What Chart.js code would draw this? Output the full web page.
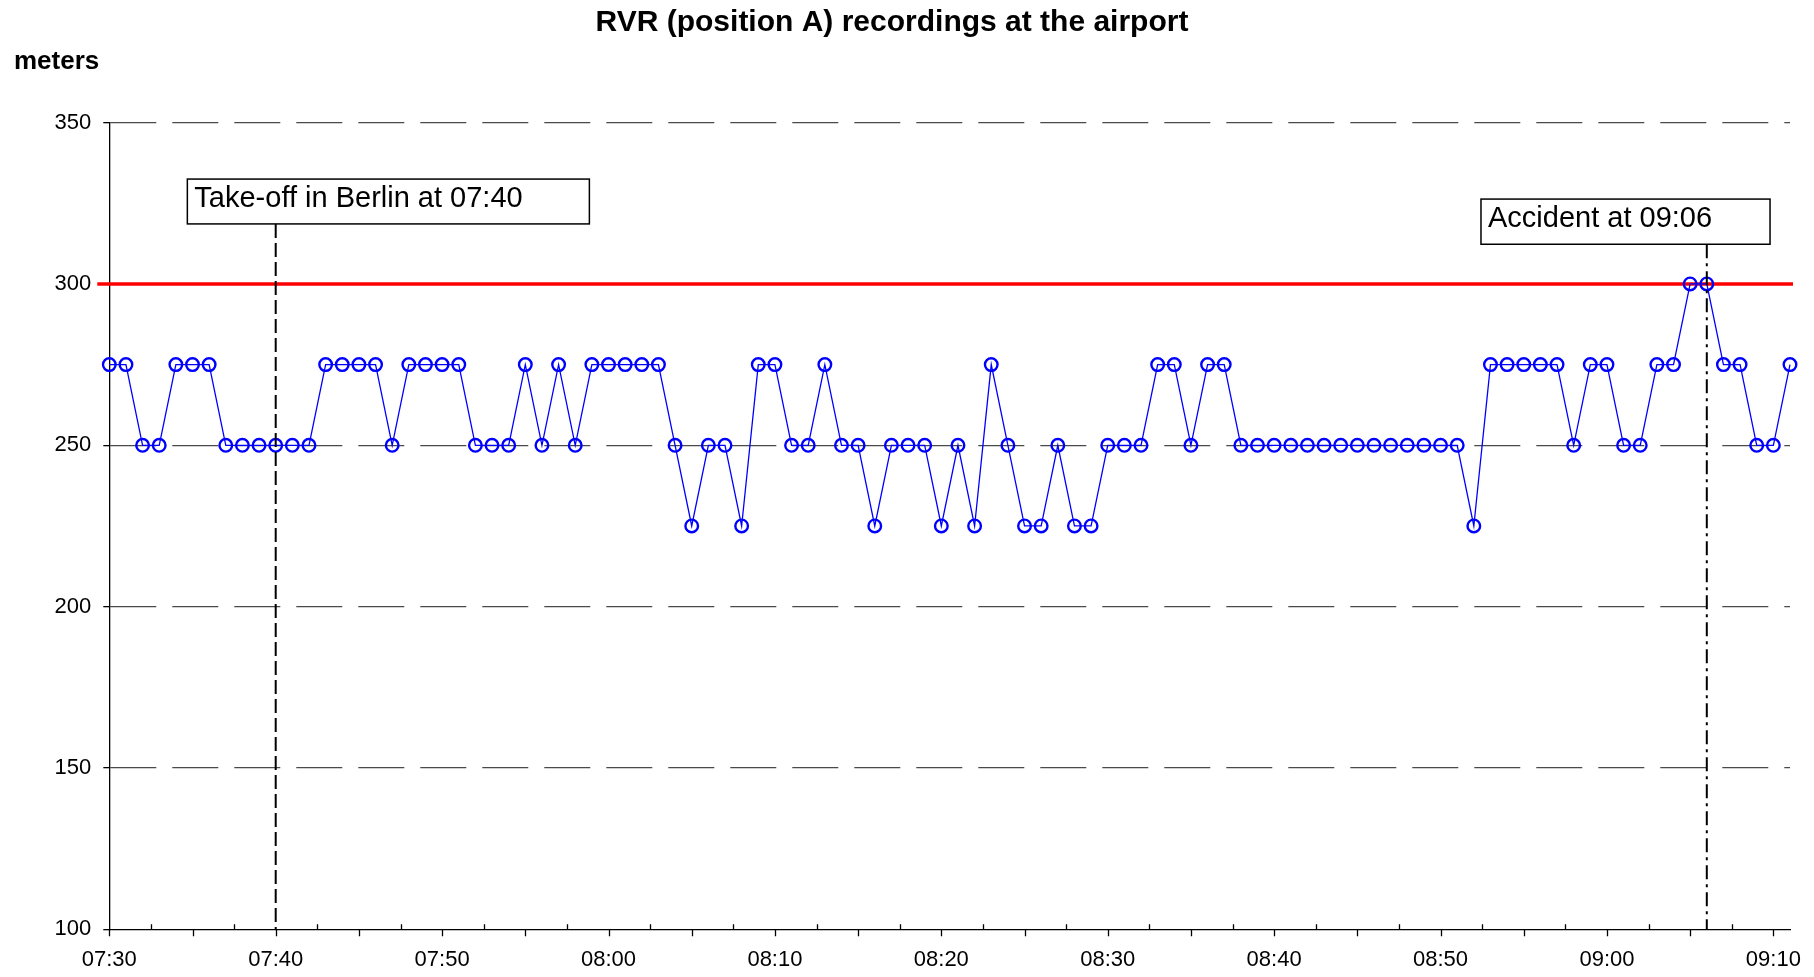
<!DOCTYPE html>
<html>
<head>
<meta charset="utf-8">
<script src="https://cdn.jsdelivr.net/npm/chart.js@4.4.1/dist/chart.umd.min.js"></script>
<style>
  html, body { margin: 0; padding: 0; background: #fff; }
  canvas { display: block; }
</style>
</head>
<body>
<canvas id="rvrChart" width="1814" height="977"></canvas>
<script>
// one reading per minute, 07:30 - 09:11
const times = [
  '07:30','07:31','07:32','07:33','07:34','07:35','07:36','07:37','07:38','07:39',
  '07:40','07:41','07:42','07:43','07:44','07:45','07:46','07:47','07:48','07:49',
  '07:50','07:51','07:52','07:53','07:54','07:55','07:56','07:57','07:58','07:59',
  '08:00','08:01','08:02','08:03','08:04','08:05','08:06','08:07','08:08','08:09',
  '08:10','08:11','08:12','08:13','08:14','08:15','08:16','08:17','08:18','08:19',
  '08:20','08:21','08:22','08:23','08:24','08:25','08:26','08:27','08:28','08:29',
  '08:30','08:31','08:32','08:33','08:34','08:35','08:36','08:37','08:38','08:39',
  '08:40','08:41','08:42','08:43','08:44','08:45','08:46','08:47','08:48','08:49',
  '08:50','08:51','08:52','08:53','08:54','08:55','08:56','08:57','08:58','08:59',
  '09:00','09:01','09:02','09:03','09:04','09:05','09:06','09:07','09:08','09:09',
  '09:10','09:11'
]

const rvr = [
  275,275,250,250,275,275,275,250,250,250,
  250,250,250,275,275,275,275,250,275,275,
  275,275,250,250,250,275,250,275,250,275,
  275,275,275,275,250,225,250,250,225,275,
  275,250,250,275,250,250,225,250,250,250,
  225,250,225,275,250,225,225,250,225,225,
  250,250,250,275,275,250,275,275,250,250,
  250,250,250,250,250,250,250,250,250,250,
  250,250,225,275,275,275,275,275,250,275,
  275,250,250,275,275,300,300,275,275,250,
  250,275
]

const xTickLabels = ['07:30','07:40','07:50','08:00','08:10','08:20','08:30','08:40','08:50','09:00','09:10']
const yTicks = [100, 150, 200, 250, 300, 350]
const limitValue = 300

const chartTitle = 'RVR (position A) recordings at the airport'
const yUnit = 'meters'

// event markers; box corners given in axis units (minute index / meters)
const events = [
  { time: '07:40', text: 'Take-off in Berlin at 07:40', dash: [14, 5], box: { from: 4.69, to: 28.85, top: 332.5, bottom: 318.6 } },
  { time: '09:06', text: 'Accident at 09:06', dash: [14, 5, 3, 5], box: { from: 82.43, to: 99.8, top: 326.3, bottom: 312.3 } }
]

const FONT = "'Liberation Sans', Arial, sans-serif"

const decor = {
  id: 'decor',
  beforeDatasetsDraw(chart) {
    const { ctx, chartArea, scales: { y } } = chart
    const py = y.getPixelForValue(limitValue)
    ctx.save()
    ctx.strokeStyle = '#ff0000'
    ctx.lineWidth = 3.5
    ctx.beginPath()
    ctx.moveTo(chartArea.left - 12, py)
    ctx.lineTo(chartArea.right + 3, py)
    ctx.stroke()
    ctx.restore()
  },
  afterDraw(chart) {
    const { ctx, chartArea, scales: { x, y } } = chart
    ctx.save()

    // title and unit
    ctx.fillStyle = '#000'
    ctx.font = `bold 30px ${FONT}`
    ctx.textAlign = 'center'
    ctx.textBaseline = 'alphabetic'
    ctx.fillText(chartTitle, 892, 31)
    ctx.font = `bold 26px ${FONT}`
    ctx.textAlign = 'left'
    ctx.fillText(yUnit, 14, 69)

    // x tick marks: every 5 min below the axis, halfway ones above
    ctx.strokeStyle = '#000'
    ctx.lineWidth = 1.3
    ctx.beginPath()
    for (let m = 0; m <= times.length - 1; m += 2.5) {
      const px = Math.round(x.getPixelForValue(m)) + 0.5
      if (m % 5 === 0) {
        ctx.moveTo(px, chartArea.bottom)
        ctx.lineTo(px, chartArea.bottom + 7)
      } else {
        ctx.moveTo(px, chartArea.bottom)
        ctx.lineTo(px, chartArea.bottom - 5)
      }
    }
    ctx.stroke()

    // event lines and labels
    events.forEach(ev => {
      const px = x.getPixelForValue(times.indexOf(ev.time))
      const bx1 = x.getPixelForValue(ev.box.from)
      const bx2 = x.getPixelForValue(ev.box.to)
      const by1 = y.getPixelForValue(ev.box.top)
      const by2 = y.getPixelForValue(ev.box.bottom)

      ctx.strokeStyle = '#000'
      ctx.lineWidth = 2
      ctx.setLineDash(ev.dash)
      ctx.beginPath()
      ctx.moveTo(px, by2)
      ctx.lineTo(px, chartArea.bottom)
      ctx.stroke()
      ctx.setLineDash([])

      ctx.fillStyle = '#fff'
      ctx.fillRect(bx1, by1, bx2 - bx1, by2 - by1)
      ctx.lineWidth = 1.5
      ctx.strokeRect(bx1, by1, bx2 - bx1, by2 - by1)

      ctx.fillStyle = '#000'
      ctx.font = `29px ${FONT}`
      ctx.textAlign = 'left'
      ctx.textBaseline = 'alphabetic'
      ctx.fillText(ev.text, bx1 + 7, by1 + 27.5)
    })

    ctx.restore()
  }
}

new Chart(document.getElementById('rvrChart'), {
  type: 'line',
  data: {
    labels: times,
    datasets: [{
      label: 'RVR',
      data: rvr,
      borderColor: '#0000ff',
      borderWidth: 1.3,
      tension: 0,
      pointRadius: 6.3,
      pointBorderWidth: 2.4,
      pointBorderColor: '#0000ff',
      pointBackgroundColor: 'rgba(0,0,0,0)'
    }]
  },
  options: {
    responsive: false,
    animation: false,
    events: [],
    layout: { padding: { left: 0, right: 24, top: 122.6, bottom: 0 } },
    plugins: {
      legend: { display: false },
      title: { display: false },
      tooltip: { enabled: false }
    },
    scales: {
      x: {
        type: 'category',
        offset: false,
        grid: { display: false, drawTicks: false },
        border: { display: true, color: '#000', width: 1.3 },
        ticks: {
          autoSkip: false,
          maxRotation: 0,
          minRotation: 0,
          padding: 17,
          color: '#000',
          font: { family: FONT, size: 22 },
          callback: (v, i) => xTickLabels.includes(times[i]) ? times[i] : ''
        },
        afterFit: (scale) => { scale.height = 47.7 }
      },
      y: {
        min: yTicks[0],
        max: yTicks[yTicks.length - 1],
        afterBuildTicks: (scale) => { scale.ticks = yTicks.map(v => ({ value: v })) },
        grid: {
          color: (c) => c.tick && c.tick.value === yTicks[0] ? 'rgba(0,0,0,0)' : '#4a4a4a',
          lineWidth: 1.3,
          tickLength: 6,
          tickColor: '#000',
          tickWidth: 1.3,
          tickBorderDash: []
        },
        border: { display: true, color: '#000', width: 1.3, dash: [46, 16] },
        ticks: {
          padding: 12,
          color: '#000',
          font: { family: FONT, size: 22 }
        },
        afterFit: (scale) => { scale.width = 109.3 }
      }
    }
  },
  plugins: [decor]
})
</script>
</body>
</html>
